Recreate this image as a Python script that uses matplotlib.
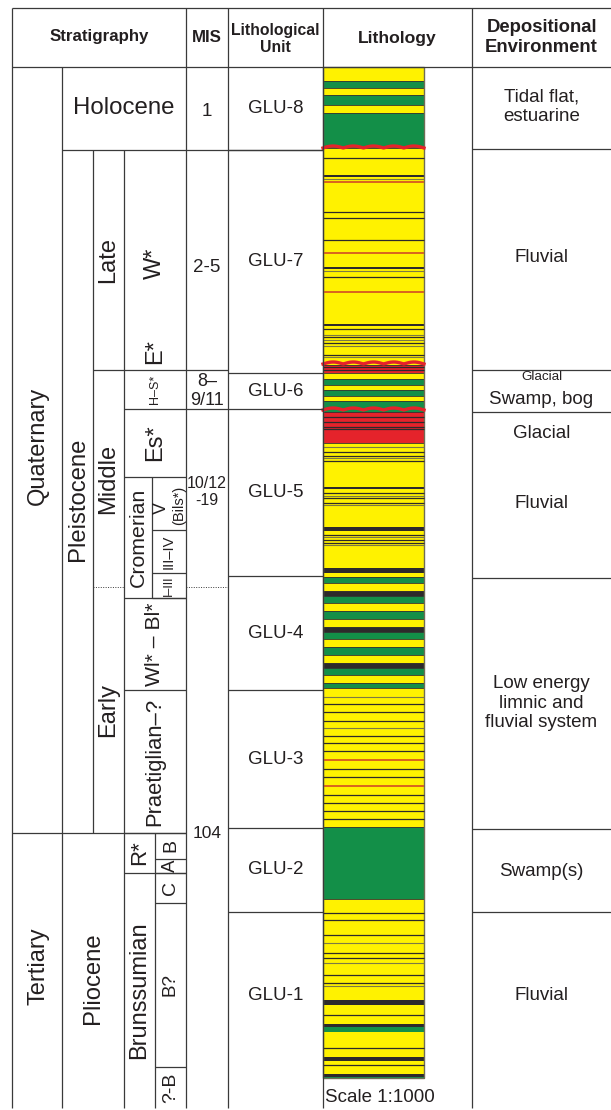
import numpy as np
import matplotlib.pyplot as plt

plt.rcParams['font.family'] = ['Liberation Sans', 'DejaVu Sans']

TXT = '#231f20'
LINE = '#3a3a3a'

# ---------------------------------------------------------------------------
# depths are measured down from the top of the column (column units)
# ---------------------------------------------------------------------------
COLUMN_BASE = 1011
TABLE_BASE = 1041

# lithology: continuous fills (top, base, type)
fill_top = [0, 14, 21, 28, 38, 46, 81, 298, 306, 312, 318, 323, 329, 334, 345,
            376, 510, 516, 524, 529, 536, 544, 552, 560, 565, 572, 580, 588,
            596, 601, 608, 616, 621, 760, 832]
fill_base = [14, 21, 28, 38, 46, 81, 298, 306, 312, 318, 323, 329, 334, 345,
             376, 510, 516, 524, 529, 536, 544, 552, 560, 565, 572, 580, 588,
             596, 601, 608, 616, 621, 760, 832, COLUMN_BASE]
fill_type = ['Y', 'G', 'Y', 'G', 'Y', 'G', 'Y', 'R', 'Y', 'G', 'Y', 'G', 'Y',
             'G', 'R', 'Y', 'G', 'Y', 'K', 'G', 'Y', 'G', 'Y', 'K', 'G', 'Y',
             'G', 'Y', 'K', 'G', 'Y', 'G', 'Y', 'G', 'Y']

# thin beds inside the fills (top, base, type)
bed_top = [108, 200, 257, 420, 460, 501, 933, 957, 960, 990, 1007, 1010]
bed_base = [110, 202, 259, 422, 464, 506, 938, 960, 965, 994, 1010, 1011]
bed_type = ['K', 'K', 'K', 'K', 'K', 'K', 'K', 'K', 'G', 'K', 'K', 'G']

# laminae: depth and type (k dark, o oxidised, g silty)
lam_depth = [91, 112, 145, 151, 173, 204, 210, 262, 268, 270, 273, 276, 279,
             288, 290, 300, 303, 350, 355, 360, 362, 380, 385, 389, 391, 394,
             426, 429, 431, 436, 438, 468, 470, 473, 476, 478, 630, 637, 645,
             654, 661, 669, 676, 684, 702, 710, 728, 736, 744, 752, 846, 853,
             868, 876, 886, 891, 896, 908, 916, 919, 948, 981, 998,
             115, 186, 225, 693, 719]
lam_type = ['k', 'g', 'k', 'k', 'k', 'g', 'k', 'k', 'g', 'k', 'g', 'k', 'g',
            'k', 'g', 'k', 'k', 'k', 'k', 'k', 'k', 'g', 'k', 'k', 'g', 'k',
            'k', 'g', 'k', 'k', 'g', 'k', 'g', 'k', 'k', 'g', 'g', 'k', 'k',
            'k', 'g', 'k', 'k', 'k', 'k', 'k', 'k', 'k', 'k', 'k', 'k', 'k',
            'k', 'g', 'k', 'k', 'g', 'k', 'k', 'g', 'k', 'k', 'k',
            'o', 'o', 'o', 'o', 'o']

# erosional unconformities
erosion_depth = [81, 297, 343]

# units: label, top, base
chrono_labels = ['Quaternary', 'Tertiary']
chrono_top = [0, 766]
chrono_base = [766, TABLE_BASE]

epoch_labels = ['Pleistocene', 'Pliocene']
epoch_top = [83, 766]
epoch_base = [766, TABLE_BASE]

subepoch_labels = ['Late', 'Middle', 'Early']
subepoch_top = [83, 303, 520]
subepoch_base = [303, 520, 766]

stage_labels = ['H–S*', 'Es*', 'Cromerian', 'Wl* – Bl*', 'Praetiglian–?',
                'R*', 'Brunssumian']
stage_top = [303, 342, 410, 531, 623, 766, 806]
stage_base = [342, 410, 531, 623, 766, 806, TABLE_BASE]
stage_size = [9, 17, 15.3, 15.3, 15.8, 16, 17]

substage_labels = ['V', 'III–IV', 'I–III', 'B', 'A', 'C', 'B?', '?-B']
substage_top = [410, 463, 506, 766, 792, 806, 836, 1000]
substage_base = [463, 506, 531, 792, 806, 836, 1000, TABLE_BASE]
substage_size = [13, 10.5, 9, 14, 13.5, 14, 13.5, 14]

mis_labels = ['1', '2-5', '8–\n9/11', '10/12\n-19', '104']
mis_depth = [45, 201, 324, 425, 766]
mis_size = [13.5, 13.5, 13, 11.5, 12.5]

glu_labels = ['GLU-8', 'GLU-7', 'GLU-6', 'GLU-5', 'GLU-4', 'GLU-3', 'GLU-2',
              'GLU-1']
glu_top = [0, 83, 306, 342, 509, 623, 761, 845]
glu_base = [83, 306, 342, 509, 623, 761, 845, COLUMN_BASE]

env_labels = ['Tidal flat,\nestuarine', 'Fluvial', 'Swamp, bog', 'Glacial',
              'Fluvial', 'Low energy\nlimnic and\nfluvial system', 'Swamp(s)',
              'Fluvial']
env_depth = [40, 190, 332, 366, 436, 636, 805, 928]
env_bounds = [82, 303, 345, 511, 762, 845]

# ---------------------------------------------------------------------------
COLORS = {'Y': '#fff200', 'G': '#138f48', 'R': '#e5232b', 'K': '#2d2a2b'}
LAM_COLORS = {'k': '#2d2a2b', 'o': '#d8641f', 'g': '#7d7a45'}
LAM_WIDTH = {'k': 0.9, 'o': 1.4, 'g': 0.8}

# column edges
X_L, X_Q, X_P, X_S, X_SC, X_ST = 12, 62, 93, 124, 152, 155
X_MIS, X_GLU, X_LIT, X_LIT_R, X_ENV, X_R = 186, 228, 323, 424, 472, 611
HEAD_TOP = -59

fig = plt.figure(figsize=(6.11, 11.10), dpi=100)
ax = fig.add_axes([0, 0, 1, 1])
ax.set_xlim(0, 611)
ax.set_ylim(1043, -67)
ax.axis('off')


def put(text, x, d, size, rot=0, weight='normal', ls=1.15, ha='center'):
    ax.text(x, d, text, fontsize=size, rotation=rot, ha=ha, va='center',
            color=TXT, weight=weight, linespacing=ls, rotation_mode='anchor')


def hl(d, x0, x1, **kw):
    ax.plot([x0, x1], [d, d], color=LINE, lw=kw.get('lw', 0.9),
            ls=kw.get('ls', '-'), solid_capstyle='butt')


def vl(x, d0, d1):
    ax.plot([x, x], [d0, d1], color=LINE, lw=0.9, solid_capstyle='butt')


# ---- lithology column
w = X_LIT_R - X_LIT
xc = X_LIT + w / 2
for t, b, k in zip(fill_top, fill_base, fill_type):
    ax.bar(xc, b - t, bottom=t, width=w, color=COLORS[k], edgecolor='#2d2a2b',
           linewidth=0.5)
for t, b, k in zip(bed_top, bed_base, bed_type):
    ax.bar(xc, b - t, bottom=t, width=w, color=COLORS[k], linewidth=0)
for d, k in zip(lam_depth, lam_type):
    ax.hlines(d, X_LIT, X_LIT_R, colors=LAM_COLORS[k], lw=LAM_WIDTH[k])
xs = np.linspace(X_LIT, X_LIT_R, 300)
for d in erosion_depth:
    ax.plot(xs, d - 2.0 * np.abs(np.sin(np.pi * 5 * (xs - X_LIT) / w)),
            color='#e5232b', lw=2.4)
ax.bar(xc, COLUMN_BASE, bottom=0, width=w, fill=False, edgecolor='#6f6c55',
       linewidth=1.0)
put('Scale 1:1000', X_LIT + 2, 1030, 13.5, ha='left')

# ---- table frame
for x in [X_L, X_MIS, X_GLU, X_LIT, X_ENV]:
    vl(x, HEAD_TOP, TABLE_BASE)
vl(X_Q, 0, TABLE_BASE)
vl(X_P, 83, 766)
vl(X_S, 83, TABLE_BASE)
vl(X_SC, 410, 531)
vl(X_ST, 766, TABLE_BASE)
hl(HEAD_TOP, X_L, X_R)
hl(0, X_L, X_R)
hl(83, X_Q, X_LIT)
for d in env_bounds:
    hl(d, X_ENV, X_R)
for d in glu_base[:-1]:
    hl(d, X_GLU, X_LIT)
hl(303, X_P, X_GLU)
hl(342, X_S, X_GLU)
hl(766, X_L, X_MIS)
for d in stage_base[1:-1]:
    hl(d, X_S, X_MIS)
for t, b in zip(substage_top, substage_base):
    if b < TABLE_BASE:
        x0 = X_SC if b < 766 else X_ST
        hl(b, x0, X_MIS)
hl(520, X_P, X_S, ls=(0, (1, 1.5)), lw=0.7)
hl(520, X_MIS, X_GLU, ls=(0, (1, 1.5)), lw=0.7)

# ---- header
put('Stratigraphy', (X_L + X_MIS) / 2, -30, 12.2, weight='bold')
put('MIS', (X_MIS + X_GLU) / 2, -30, 12.2, weight='bold')
put('Lithological', (X_GLU + X_LIT) / 2, -37, 11.3, weight='bold')
put('Unit', (X_GLU + X_LIT) / 2, -20, 11.3, weight='bold')
put('Lithology', (X_LIT + X_ENV) / 2, -29, 12.6, weight='bold')
put('Depositional', (X_ENV + X_R) / 2, -40, 13.3, weight='bold')
put('Environment', (X_ENV + X_R) / 2, -20, 13.3, weight='bold')

# ---- stratigraphy labels
put('Holocene', (X_Q + X_MIS) / 2, 41, 17.3)
for lab, t, b in zip(chrono_labels, chrono_top, chrono_base):
    put(lab, (X_L + X_Q) / 2 + 1, (t + b) / 2 - 4, 17, rot=90)
for lab, t, b, x in zip(epoch_labels, epoch_top, epoch_base,
                        [(X_Q + X_P) / 2, (X_Q + X_S) / 2]):
    put(lab, x, (t + b) / 2 + 8, 17.2, rot=90)
for lab, t, b in zip(subepoch_labels, subepoch_top, subepoch_base):
    put(lab, (X_P + X_S) / 2, (t + b) / 2, 17, rot=90)
put('W*', (X_S + X_MIS) / 2, 196, 17, rot=90)
put('E*', (X_S + X_MIS) / 2, 285, 17, rot=90)
for lab, t, b, s in zip(stage_labels, stage_top, stage_base, stage_size):
    x = (X_S + X_MIS) / 2
    if lab == 'Cromerian':
        x = (X_S + X_SC) / 2
    elif b > 766:
        x = (X_S + X_ST) / 2
    put(lab, x, (t + b) / 2, s, rot=90)
for lab, t, b, s in zip(substage_labels, substage_top, substage_base,
                        substage_size):
    x = (X_SC + X_MIS) / 2 if b <= 531 else (X_ST + X_MIS) / 2
    if lab == 'V':
        put(lab, x - 8, (t + b) / 2 + 4, s, rot=90)
        put('(Bils*)', x + 10, (t + b) / 2 + 2, 10.5, rot=90)
    else:
        put(lab, x, (t + b) / 2, s, rot=90)

for lab, d, s in zip(mis_labels, mis_depth, mis_size):
    put(lab, (X_MIS + X_GLU) / 2, d, s, ls=1.2)

for lab, t, b in zip(glu_labels, glu_top, glu_base):
    put(lab, (X_GLU + X_LIT) / 2, (t + b) / 2, 13.5)

for lab, d in zip(env_labels, env_depth):
    put(lab, (X_ENV + X_R) / 2, d, 13.5, ls=1.2)
put('Glacial', (X_ENV + X_R) / 2, 310, 9.6)

fig.savefig('out.png', dpi=100)
